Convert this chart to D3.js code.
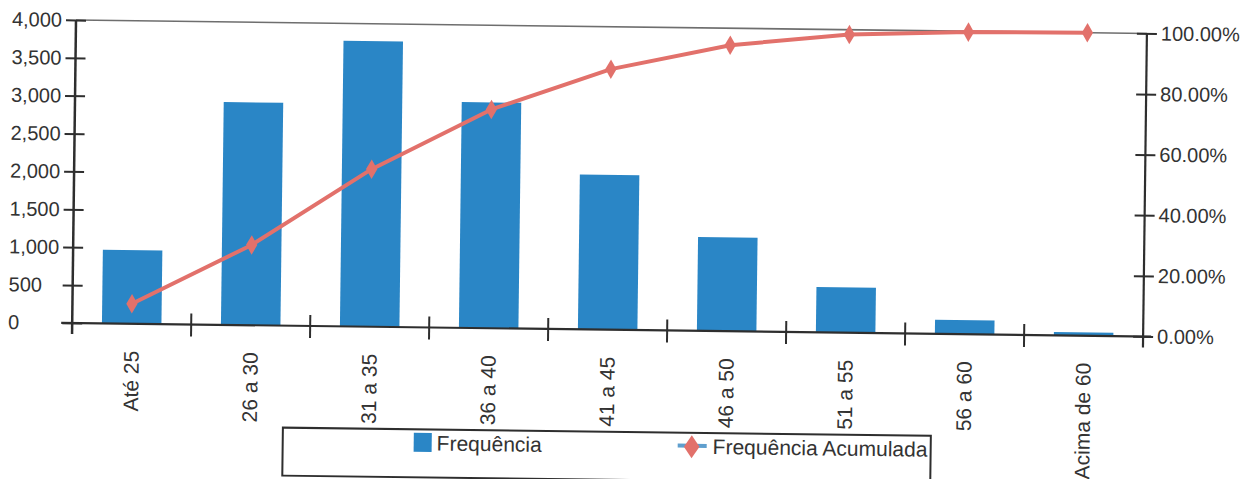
<!DOCTYPE html>
<html>
<head>
<meta charset="utf-8">
<script src="https://cdn.jsdelivr.net/npm/d3@7"></script>
<style>
  body { margin: 0; background: #fff; }
  svg { display: block; font-family: "Liberation Sans", Arial, sans-serif; }
</style>
</head>
<body>
<svg id="chart" width="1258" height="479"></svg>
<script>
// Age bands and how many people fall in each
const categories = ["Até 25", "26 a 30", "31 a 35", "36 a 40", "41 a 45", "46 a 50", "51 a 55", "56 a 60", "Acima de 60"];
const frequencia = [973, 2942, 3771, 2981, 2045, 1238, 598, 186, 45];
// Running share of the total, in percent
const acumulada = [6.6, 26.5, 52.0, 72.2, 86.0, 94.4, 98.4, 99.7, 100.0];
const leftTicks = [0, 500, 1000, 1500, 2000, 2500, 3000, 3500, 4000];
const rightTicks = [0, 20, 40, 60, 80, 100];
const legendLabels = ["Frequência", "Frequência Acumulada"];

const BAR = "#2a86c6", LINE = "#e2716b", AXIS = "#2e2e2e", TEXT = "#333";
const L = 76, R = 1147, T = 20, B = 323;

const svg = d3.select("#chart");
// The whole figure sits slightly turned, like a page fed askew into a scanner
const g = svg.append("g").attr("transform", `rotate(0.72, ${L}, ${T})`);

const x = d3.scaleBand().domain(categories).range([L, R]).paddingInner(0.5).paddingOuter(0.25);
const y = d3.scaleLinear().domain([0, 4000]).range([B, T]);
const yR = d3.scaleLinear().domain([0, 100]).range([B, T]);
const step = x.step();

// top frame line
g.append("line").attr("x1", L).attr("x2", R).attr("y1", T).attr("y2", T)
  .attr("stroke", "#6e6e6e").attr("stroke-width", 1.6);

// bars
g.append("g").selectAll("rect").data(categories).join("rect")
  .attr("x", d => x(d))
  .attr("width", x.bandwidth())
  .attr("y", (d, i) => y(frequencia[i]))
  .attr("height", (d, i) => B - y(frequencia[i]))
  .attr("fill", BAR);

// left axis
const gl = g.append("g").attr("transform", `translate(${L},0)`)
  .call(d3.axisLeft(y).tickValues(leftTicks).tickFormat(d3.format(",")).tickSize(10).tickPadding(0));
gl.select(".domain").remove();
gl.selectAll(".tick line").attr("x1", -10).attr("x2", 10).attr("stroke", AXIS).attr("stroke-width", 2);
gl.selectAll(".tick text").attr("text-anchor", "start").attr("x", 12 - L)
  .attr("font-size", 20).attr("fill", TEXT).attr("font-family", "Liberation Sans, Arial, sans-serif");
g.append("line").attr("x1", L).attr("x2", L).attr("y1", T).attr("y2", B + 11)
  .attr("stroke", AXIS).attr("stroke-width", 2.5);

// right axis
const gr = g.append("g").attr("transform", `translate(${R},0)`)
  .call(d3.axisRight(yR).tickValues(rightTicks).tickFormat(d => d3.format(".2f")(d) + "%").tickSize(10).tickPadding(4));
gr.select(".domain").remove();
gr.selectAll(".tick line").attr("x1", -10).attr("x2", 10).attr("stroke", AXIS).attr("stroke-width", 2);
gr.selectAll(".tick text").attr("x", 14)
  .attr("font-size", 20).attr("fill", TEXT).attr("font-family", "Liberation Sans, Arial, sans-serif");
g.append("line").attr("x1", R).attr("x2", R).attr("y1", T).attr("y2", B + 11)
  .attr("stroke", AXIS).attr("stroke-width", 2.2);

// category axis with ticks on the band boundaries
g.append("line").attr("x1", L - 11).attr("x2", R + 8).attr("y1", B).attr("y2", B)
  .attr("stroke", AXIS).attr("stroke-width", 2.2);
g.append("g").selectAll("line").data(d3.range(1, categories.length)).join("line")
  .attr("x1", k => L + k * step).attr("x2", k => L + k * step)
  .attr("y1", B - 11).attr("y2", B + 12)
  .attr("stroke", AXIS).attr("stroke-width", 2);
g.append("g").selectAll("text").data(categories).join("text")
  .attr("transform", d => `translate(${x(d) + x.bandwidth() / 2},${B + 27}) rotate(-90)`)
  .attr("text-anchor", "end").attr("dy", "0.35em")
  .attr("font-size", 21).attr("fill", TEXT)
  .text(d => d);

// cumulative line with diamond markers
const pts = categories.map((c, i) => [x(c) + x.bandwidth() / 2, yR(acumulada[i])]);
g.append("path").attr("d", d3.line()(pts))
  .attr("fill", "none").attr("stroke", LINE).attr("stroke-width", 4).attr("stroke-linejoin", "round");
g.append("g").selectAll("path").data(pts).join("path")
  .attr("transform", p => `translate(${p[0]},${p[1]})`)
  .attr("d", d3.symbol(d3.symbolDiamond, 110))
  .attr("fill", LINE);

// legend
const lg = g.append("g");
lg.append("rect").attr("x", 288).attr("y", 425).attr("width", 648).attr("height", 48)
  .attr("fill", "none").attr("stroke", AXIS).attr("stroke-width", 2);
lg.append("rect").attr("x", 419).attr("y", 428.5).attr("width", 18).attr("height", 19).attr("fill", BAR);
lg.append("text").attr("x", 442).attr("y", 446).attr("font-size", 21).attr("fill", TEXT).text(legendLabels[0]);
lg.append("line").attr("x1", 683).attr("x2", 712).attr("y1", 438).attr("y2", 438)
  .attr("stroke", "#5f9fce").attr("stroke-width", 4);
lg.append("path").attr("transform", "translate(697,439) scale(1,0.85)")
  .attr("d", d3.symbol(d3.symbolDiamond, 210)).attr("fill", LINE);
lg.append("text").attr("x", 718).attr("y", 446).attr("font-size", 21).attr("fill", TEXT).text(legendLabels[1]);
</script>
</body>
</html>
